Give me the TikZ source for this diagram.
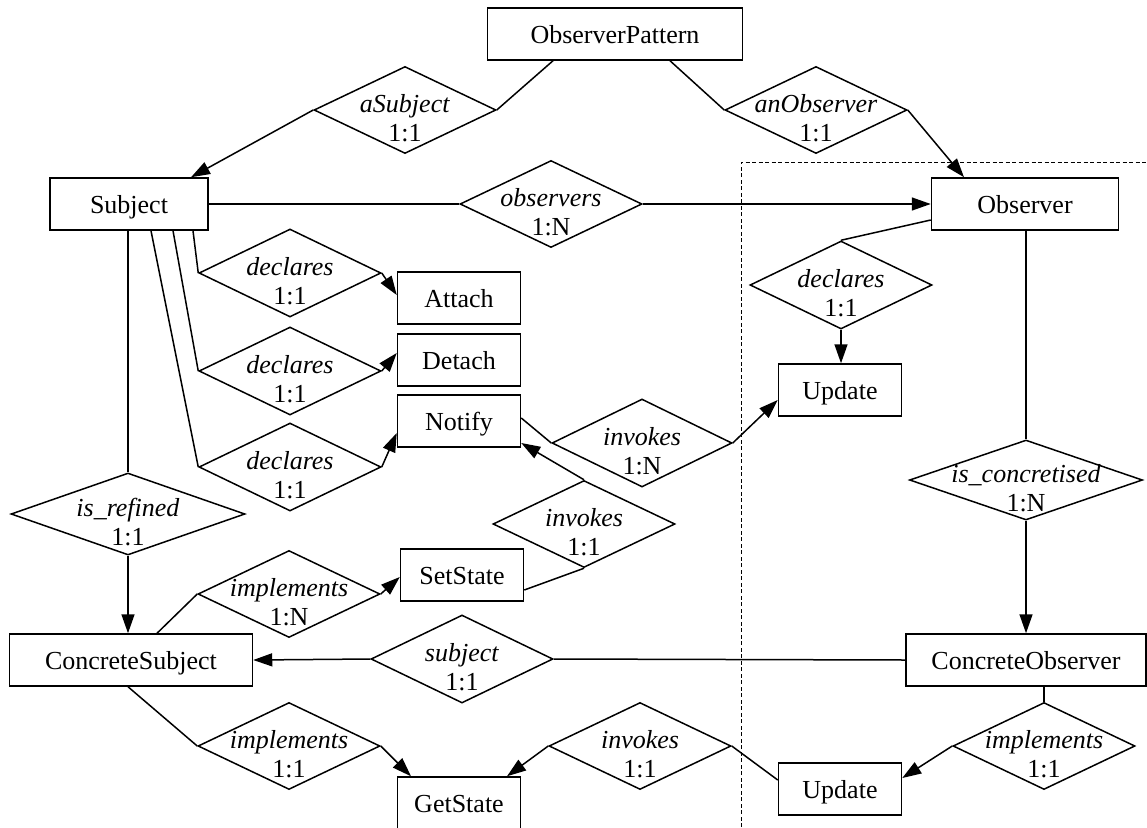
\documentclass[tikz,border=0pt]{standalone}
\usepackage{fontspec}
\setmainfont{Liberation Serif}
\usetikzlibrary{shapes.geometric,arrows.meta}
\newcommand\relt[2]{\makebox[0pt]{\raisebox{-2pt}[0pt][0pt]{\textit{#1}}}\makebox[0pt]{\raisebox{-31pt}[0pt][0pt]{#2}}}
\begin{document}
\begin{tikzpicture}[x=1pt,y=-1pt,
  font=\fontsize{26}{29}\selectfont,
  ent/.style={draw, rectangle, line width=1.5pt, inner sep=0pt, minimum height=52pt, text height=18pt, text depth=0pt},
  rel/.style={draw, diamond, line width=1.5pt, inner sep=0pt, minimum width=182pt, minimum height=87pt},
  conn/.style={line width=1.5pt},
  arr/.style={line width=1.5pt, -{Triangle[length=19pt,width=13pt]}},
  frame/.style={line width=0.9pt, dash pattern=on 4pt off 2.5pt}
]
\useasboundingbox (0,0) rectangle (1147,827);
% frame
\coordinate (fb) at (741,827);
\coordinate (fc) at (741,162);
\coordinate (fr) at (1147,162);
\draw[frame] (fb) -- (fc) -- (fr);
% entities
\node[ent, minimum width=255pt] (OP) at (615,34) {ObserverPattern};
\node[ent, minimum width=158pt] (Subj) at (129,204) {Subject};
\node[ent, minimum width=187pt] (Obs) at (1025,204) {Observer};
\node[ent, minimum width=123pt] (Attach) at (459,298) {Attach};
\node[ent, minimum width=123pt] (Detach) at (459,360) {Detach};
\node[ent, minimum width=123pt] (Notify) at (459,421) {Notify};
\node[ent, minimum width=123pt] (Upd1) at (840,390) {Update};
\node[ent, minimum width=123pt] (SetState) at (462,575) {SetState};
\node[ent, minimum width=243pt] (CS) at (131,660) {ConcreteSubject};
\node[ent, minimum width=240pt] (CO) at (1026,660) {ConcreteObserver};
\node[ent, minimum width=123pt] (GetState) at (459,803) {GetState};
\node[ent, minimum width=123pt] (Upd2) at (840,789) {Update};
% relationships
\node[rel] (aSub) at (405,110) {\relt{aSubject}{1:1}};
\node[rel] (anObs) at (816,110) {\relt{anObserver}{1:1}};
\node[rel] (obs) at (551,204) {\relt{observers}{1:N}};
\node[rel, minimum height=88pt] (dec1) at (290,273) {\relt{declares}{1:1}};
\node[rel, minimum height=88pt] (dec2) at (290,371) {\relt{declares}{1:1}};
\node[rel, minimum height=88pt] (dec3) at (290,467) {\relt{declares}{1:1}};
\node[rel, minimum width=234pt, minimum height=82pt] (isref) at (128,514) {\relt{is\_refined}{1:1}};
\node[rel, minimum height=88pt] (dec4) at (841,285) {\relt{declares}{1:1}};
\node[rel, minimum width=180pt, minimum height=88pt] (invN) at (642,443) {\relt{invokes}{1:N}};
\node[rel] (inv1) at (584,524) {\relt{invokes}{1:1}};
\node[rel] (imp1) at (289,594) {\relt{implements}{1:N}};
\node[rel, minimum height=88pt] (subj) at (462,659) {\relt{subject}{1:1}};
\node[rel] (imp2) at (289,746) {\relt{implements}{1:1}};
\node[rel] (inv2) at (640,746) {\relt{invokes}{1:1}};
\node[rel] (imp3) at (1044,746) {\relt{implements}{1:1}};
\node[rel, minimum width=233pt, minimum height=80pt] (iscon) at (1026,480) {\relt{is\_concretised}{1:N}};
% connectors
\draw[conn] ([xshift=-62pt]OP.south) -- (aSub.east);
\draw[arr] (aSub.west) -- ([xshift=62pt]Subj.north);
\draw[conn] ([xshift=55pt]OP.south) -- (anObs.west);
\draw[arr] (anObs.east) -- ([xshift=-61pt]Obs.north);
\draw[conn] (Subj.east) -- (obs.west);
\draw[arr] (obs.east) -- (Obs.west);
\draw[conn] ([xshift=64pt]Subj.south) -- (dec1.west);
\draw[arr] (dec1.east) -- ([yshift=3pt]Attach.west);
\draw[conn] ([xshift=44pt]Subj.south) -- (dec2.west);
\draw[arr] (dec2.east) -- ([yshift=7pt]Detach.west);
\draw[conn] ([xshift=22pt]Subj.south) -- (dec3.west);
\draw[arr] (dec3.east) -- ([yshift=-12pt]Notify.west);
\draw[conn] (isref.north |- Subj.south) -- (isref.north);
\draw[arr] (isref.south) -- (isref.south |- CS.north);
\draw[conn] ([xshift=26pt]CS.north) -- (imp1.west);
\draw[arr] (imp1.east) -- ([yshift=-2pt]SetState.west);
\draw[conn] ([xshift=-3pt]CS.south) -- (imp2.west);
\draw[arr] (imp2.east) -- ([xshift=-48pt]GetState.north);
\draw[conn] (CO.west) -- (subj.east);
\draw[arr] (subj.west) -- (CS.east);
\draw[conn] (iscon.north |- Obs.south) -- (iscon.north);
\draw[arr] (iscon.south) -- (iscon.south |- CO.north);
\draw[conn] ([yshift=-16pt]Obs.west) -- (dec4.north);
\draw[arr] (dec4.south) -- (dec4.south |- Upd1.north);
\draw[conn] ([yshift=3pt]Notify.east) -- (invN.west);
\draw[arr] (invN.east) -- ([yshift=-10pt]Upd1.west);
\draw[conn] ([yshift=-15pt]SetState.east) -- (inv1.south);
\draw[arr] (inv1.north) -- ([yshift=-22pt]Notify.east);
\draw[arr] (inv2.west) -- ([xshift=48pt]GetState.north);
\draw[conn] (inv2.east) -- ([yshift=9pt]Upd2.west);
\draw[conn] (imp3.north |- CO.south) -- (imp3.north);
\draw[arr] (imp3.west) -- ([yshift=11pt]Upd2.east);
\end{tikzpicture}
\end{document}
